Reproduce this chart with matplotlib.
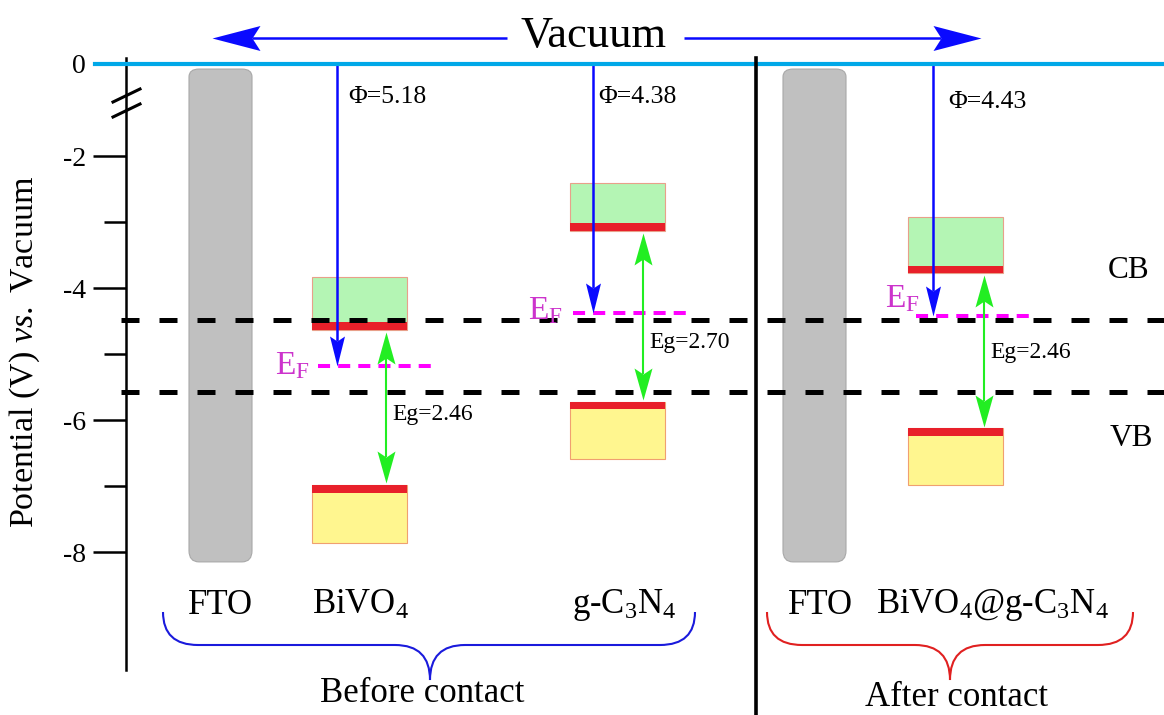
import numpy as np
import matplotlib.pyplot as plt
import matplotlib.transforms as mtransforms
from matplotlib.markers import MarkerStyle
from matplotlib.patches import FancyBboxPatch, PathPatch, Rectangle
from matplotlib.path import Path

plt.rcParams["font.family"] = ["Liberation Serif", "DejaVu Serif"]
plt.rcParams["mathtext.fontset"] = "custom"
plt.rcParams["mathtext.rm"] = "Liberation Serif"
plt.rcParams["mathtext.it"] = "Liberation Serif:italic"

# band positions, eV vs. vacuum
materials = ["BiVO$_4$", "g-C$_3$N$_4$", "BiVO$_4$@g-C$_3$N$_4$"]
work_function = [5.18, 4.38, 4.43]
cb_edge = [-4.58, -3.08, -3.72]
band_gap = [2.46, 2.70, 2.46]
cb_top = [-3.83, -2.41, -2.92]
vb_bottom = [-7.86, -6.59, -6.98]
ref_levels = [-4.48, -5.58]
fto_top, fto_bottom = -0.11, -8.15
major_ticks = [0, -2, -4, -6, -8]
minor_ticks = [-3, -5, -7]
groups = ["Before contact", "After contact"]

# layout (x in pixels of the 1164 px wide canvas)
W, H = 1164, 715
box_x = [312, 570, 908]
box_w = 95
phi_x = [337, 593, 933]
phi_label_pos = [(348, 97), (598, 97), (948, 102)]
eg_x = [386, 643, 984]
eg_label_y = [-5.92, -4.83, -4.98]
ef_span = [(318, 432), (573, 687), (916, 1029)]
ef_label_offset = [(-6, 0), (-7, 2), (3, 13)]
fto_x = [189, 783]
fto_w = 63
fto_label_x = [220, 820]
mat_label_x = [361, 624, 992]
band_half = 0.06

GREEN = "#b4f5b4"
YELLOW = "#fff68f"
RED = "#e8202a"
BLUE = "#0a0aff"
LIME = "#22ee22"
MAGENTA = "#ff00ff"

# squeeze the 0..-2 range to make room for the vacuum level
BREAK, SQUEEZE = -2.0, 0.697


def fwd(v):
    v = np.asarray(v, dtype=float)
    return np.where(v > BREAK, BREAK + (v - BREAK) * SQUEEZE, v)


def inv(s):
    s = np.asarray(s, dtype=float)
    return np.where(s > BREAK, BREAK + (s - BREAK) / SQUEEZE, s)


fig = plt.figure(figsize=(W / 100, H / 100), dpi=100)
ax = fig.add_axes([0, 0, 1, 1])
ax.set_yscale("function", functions=(fwd, inv))
ax.set_xlim(0, W)
ax.set_ylim(-2 - (H - 156) / 66, float(inv(-2 + 156 / 66)))

deco = mtransforms.blended_transform_factory(ax.transData, ax.transAxes)


def fy(p):
    return 1 - p / H


for side in ["top", "right", "bottom"]:
    ax.spines[side].set_visible(False)
ax.spines["left"].set_position(("data", 126))
ax.spines["left"].set_bounds(-9.79, 0.13)
ax.spines["left"].set_linewidth(1.8)
ax.xaxis.set_visible(False)
ax.set_yticks(major_ticks, [f"{t:d}" for t in major_ticks])
ax.set_yticks(minor_ticks, minor=True)
ax.tick_params(axis="y", which="major", direction="out", length=24, width=1.8,
               pad=5, labelsize=20)
ax.tick_params(axis="y", which="minor", direction="out", length=16, width=1.8)


def head_path(length, width, notch, angle):
    verts = np.array([(0, 0), (-length, width / 2), (-length + notch, 0),
                      (-length, -width / 2), (0, 0)], dtype=float)
    c, s = np.cos(angle), np.sin(angle)
    verts = verts @ np.array([[c, s], [-s, c]])
    codes = [Path.MOVETO, Path.LINETO, Path.LINETO, Path.LINETO, Path.CLOSEPOLY]
    return Path(verts, codes)


def draw_arrow(x0, y0, x1, y1, color, lw, head_len, head_w, notch,
               transform=None, both=False, zorder=5):
    tr = transform or ax.transData
    p0 = tr.transform((x0, y0))
    p1 = tr.transform((x1, y1))
    u = (p1 - p0) / np.hypot(*(p1 - p0))
    angle = np.arctan2(u[1], u[0])
    end = p1 - u * (head_len - notch)
    start = p0 + u * (head_len - notch) if both else p0
    shaft = tr.inverted().transform([start, end])
    ax.plot(shaft[:, 0], shaft[:, 1], transform=tr, color=color, lw=lw,
            solid_capstyle="butt", zorder=zorder, clip_on=False)
    tips = [((x1, y1), angle)]
    if both:
        tips.append(((x0, y0), angle + np.pi))
    for (tx, ty), a in tips:
        ax.plot([tx], [ty], transform=tr, ls="none", color=color, mew=0,
                marker=MarkerStyle(head_path(head_len, head_w, notch, a)),
                ms=2 * head_len * 0.72, zorder=zorder, clip_on=False)


# axis break marks
for p in (102, 117):
    ax.plot([113, 140], [fy(p), fy(p - 13)], transform=deco, color="k",
            lw=2.2, clip_on=False, zorder=7)

# vacuum level and its arrow
ax.axhline(0, xmin=95 / W, color="#00a8e8", lw=3, zorder=6)
draw_arrow(507, fy(37.7), 212, fy(37.7), BLUE, 1.8, 48, 25, 8, transform=deco)
draw_arrow(684, fy(37.7), 981, fy(37.7), BLUE, 1.8, 48, 25, 8, transform=deco)
ax.text(594, fy(47), "Vacuum", transform=deco, ha="center", va="baseline",
        fontsize=32)

# divider between before/after contact
ax.plot([756, 756], [fy(58), 0], transform=deco, color="k", lw=2.6,
        clip_on=False, zorder=6)

# FTO substrates
for x in fto_x:
    ax.add_patch(FancyBboxPatch((x, fto_bottom), fto_w, fto_top - fto_bottom,
                                boxstyle="round,pad=0,rounding_size=10",
                                mutation_aspect=0.017, fc="#c0c0c0",
                                ec="#a8a8a8", lw=0.8, zorder=1))

# reference levels
for lv in ref_levels:
    ax.plot([121, W], [lv, lv], color="k", lw=3.6, ls=(0, (3.6, 4.0)),
            zorder=3, clip_on=False)

for i in range(len(materials)):
    cb = cb_edge[i]
    vb = cb - band_gap[i]
    x = box_x[i]
    ax.add_patch(Rectangle((x, cb - band_half), box_w, cb_top[i] - cb + band_half,
                           fc=GREEN, ec="#e8a08a", lw=0.8, zorder=2))
    ax.add_patch(Rectangle((x, cb - band_half), box_w, 2 * band_half,
                           fc=RED, ec="none", zorder=2.5))
    ax.add_patch(Rectangle((x, vb_bottom[i]), box_w, vb + band_half - vb_bottom[i],
                           fc=YELLOW, ec="#f0a070", lw=0.8, zorder=2))
    ax.add_patch(Rectangle((x, vb - band_half), box_w, 2 * band_half,
                           fc=RED, ec="none", zorder=2.5))

    # Fermi level
    ef = -work_function[i]
    ax.plot(ef_span[i], [ef, ef], color=MAGENTA, lw=2.9, ls=(0, (3, 2)),
            zorder=4)
    ax.annotate("E$_\\mathrm{F}$", xy=(ef_span[i][0], ef),
                xytext=ef_label_offset[i], textcoords="offset points",
                ha="right", va="center", fontsize=24, color="#cc33cc")

    # work function arrow
    draw_arrow(phi_x[i], 0, phi_x[i], ef, BLUE, 1.8, 30, 15, 5)
    px, py = phi_label_pos[i]
    ax.text(px, fy(py), f"\u03a6={work_function[i]:.2f}", transform=deco,
            ha="left", va="center", fontsize=18.5)

    # band gap arrow
    draw_arrow(eg_x[i], cb - 0.08, eg_x[i], vb + 0.08, LIME, 1.5, 32, 18, 6,
               both=True)
    ax.text(eg_x[i] + 6, eg_label_y[i], f"Eg={band_gap[i]:.2f}",
            ha="left", va="center", fontsize=17)

ax.text(1108, fy(270), "CB", transform=deco, va="center", fontsize=22.5)
ax.text(1110, fy(438), "VB", transform=deco, va="center", fontsize=22.5)

# labels under the diagram
for x in fto_label_x:
    ax.text(x, fy(605), "FTO", transform=deco, ha="center", va="center",
            fontsize=25)
for x, name in zip(mat_label_x, materials):
    ax.text(x, fy(605), name, transform=deco, ha="center", va="center",
            fontsize=25)


def brace(x0, x1, xc, color, r=35):
    yt, ym, yb = fy(612), fy(645), fy(680)
    verts = [(x0, yt), (x0, ym), (x0 + r, ym), (xc - r, ym), (xc, ym), (xc, yb),
             (xc, ym), (xc + r, ym), (x1 - r, ym), (x1, ym), (x1, yt)]
    codes = [Path.MOVETO, Path.CURVE3, Path.CURVE3, Path.LINETO, Path.CURVE3,
             Path.CURVE3, Path.CURVE3, Path.CURVE3, Path.LINETO, Path.CURVE3,
             Path.CURVE3]
    ax.add_patch(PathPatch(Path(verts, codes), fc="none", ec=color, lw=1.5,
                           transform=deco, clip_on=False))


brace(163, 695, 430, "#1a1adc")
brace(767, 1133, 950, "#e02020")
ax.text(422, fy(693), groups[0], transform=deco, ha="center", va="center",
        fontsize=25)
ax.text(957, fy(697), groups[1], transform=deco, ha="center", va="center",
        fontsize=25)

fig.text(25 / W, fy(352), "Potential (V) $\\mathit{vs.}$ Vacuum", rotation=90,
         ha="center", va="center", fontsize=24.5)

fig.savefig("out.png", dpi=100)
